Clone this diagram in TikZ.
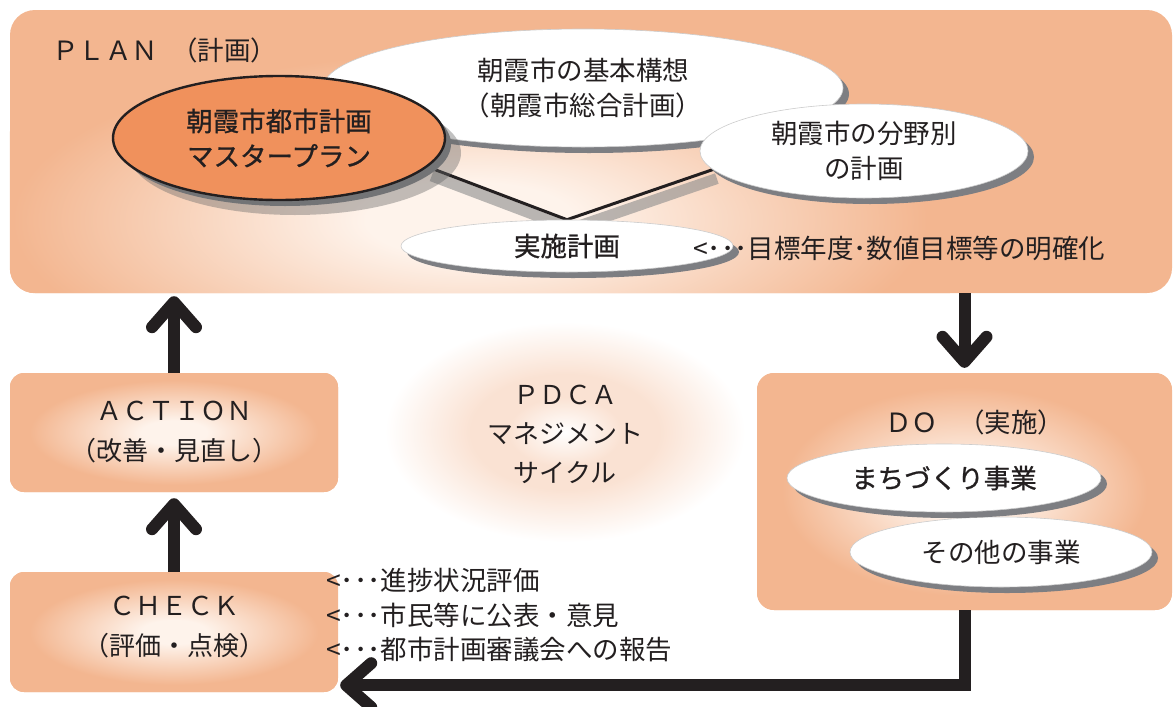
\documentclass[tikz,border=0pt]{standalone}
\usepackage{fontspec}
\setmainfont{Noto Sans CJK JP}
\newfontfamily\jpmedium{Noto Sans CJK JP}[FakeBold=0.9]
\usetikzlibrary{positioning,shapes.geometric,shadows,arrows.meta}

\definecolor{boxorange}{RGB}{243,182,144}
\definecolor{glowwhite}{RGB}{254,243,235}
\definecolor{masterorange}{RGB}{240,145,92}
\definecolor{ink}{RGB}{35,31,32}
\definecolor{ovalshadow}{RGB}{125,126,130}
\colorlet{halo}{boxorange!40!white}

\pgfdeclareradialshading{boxglow}{\pgfpoint{0bp}{0bp}}{color(0bp)=(glowwhite); color(5bp)=(glowwhite); color(22bp)=(boxorange); color(50bp)=(boxorange)}
\pgfdeclareradialshading{pdcahalo}{\pgfpoint{0bp}{0bp}}{color(0bp)=(white); color(8bp)=(halo); color(13bp)=(halo); color(25bp)=(white); color(50bp)=(white)}

\pgfdeclarelayer{back}
\pgfdeclarelayer{links}
\pgfsetlayers{back,links,main}

\newcommand{\jpsize}{\fontsize{26.5}{35}\selectfont}

\tikzset{
  phasebox/.style={rectangle, rounded corners=14pt, inner sep=0pt, fill=boxorange},
  glowing/.style={shade, shading=boxglow},
  boxtext/.style={align=center, inner sep=0pt, text=ink, font=\fontsize{26}{40}\selectfont},
  oval/.style={ellipse, inner sep=0pt, fill=white, draw=black!20, line width=0.6pt, align=center, text=ink, font=\jpsize,
    drop shadow={shadow xshift=6pt, shadow yshift=-6pt, fill=ovalshadow, opacity=1}},
  masteroval/.style={oval, fill=masterorange, draw=ink, line width=2.4pt, font=\jpsize\jpmedium,
    drop shadow={shadow xshift=16pt, shadow yshift=-15pt, fill=black!60, opacity=0.4}},
  note/.style={anchor=west, inner sep=0pt, text=ink, font=\jpsize},
  flow/.style={draw=ink, line width=12pt, -{Straight Barb[round, length=25pt, width=44pt]}},
  vshadow/.style={draw=black!45, opacity=0.6, line width=11pt},
}

\begin{document}
\begin{tikzpicture}[x=1pt,y=-1pt]
\useasboundingbox (0,0) rectangle (1173,707);

\begin{pgfonlayer}{back}
\shade[shading=pdcahalo] (565,432) ellipse (180 and 110);

\node[phasebox, rounded corners=25pt, minimum width=1162pt, minimum height=283pt] (planbox) at (591,151.5) {};
\begin{scope}
  \clip[rounded corners=25pt] (planbox.north west) rectangle (planbox.south east);
  \shade[shading=boxglow] (470,220) ellipse (520 and 190);
\end{scope}

\node[phasebox, glowing, minimum width=328pt, minimum height=119pt] (actionbox) at (174,432.5) {};
\node[phasebox, glowing, minimum width=328pt, minimum height=120pt] (checkbox) at (174,632) {};
\node[phasebox, glowing, rounded corners=17pt, minimum width=415pt, minimum height=237pt] (dobox) at (964.5,491.5) {};
\end{pgfonlayer}

\node[note] (planlabel) at (52,50) {ＰＬＡＮ\hspace{13pt}（計画）};
\node[note] (dolabel) at (885,422) {ＤＯ\hspace{20pt}（実施）};

\node[oval, minimum width=520pt, minimum height=118pt] (kihon) at (583,88) {朝霞市の基本構想\\（朝霞市総合計画）};
\node[masteroval, minimum width=332pt, minimum height=124pt] (master) at (279,138) {朝霞市都市計画\\マスタープラン};
\node[oval, minimum width=328pt, minimum height=94pt] (bunya) at (864,151) {朝霞市の分野別\\の計画};
\node[oval, minimum width=332pt, minimum height=52pt, font=\jpsize\jpmedium] (jisshi) at (567,246) {実施計画};
\node[note] (goalnote) at (693,248) {<･･･目標年度･数値目標等の明確化};

\begin{pgfonlayer}{links}
\draw[vshadow] ([shift={(4,9)}]master.-11) -- ([shift={(4,9)}]jisshi.north) -- ([shift={(4,9)}]bunya.187);
\draw[draw=ink, line width=3pt] (master.-11) -- (jisshi.north) -- (bunya.187);
\end{pgfonlayer}

\node[oval, minimum width=302pt, minimum height=70pt] (sonota) at (1001,552) {その他の事業};
\node[oval, minimum width=314pt, minimum height=68pt, font=\jpsize\jpmedium] (machi) at (944,478) {まちづくり事業};

\node[boxtext] (actiontext) at (actionbox.center) {ＡＣＴＩＯＮ\\（改善・見直し）};
\node[boxtext] (checktext) at ([yshift=5pt]checkbox.center) {ＣＨＥＣＫ\\（評価・点検）};

\node[boxtext, font=\fontsize{26}{39}\selectfont] (pdca) at (565,434) {ＰＤＣＡ\\マネジメント\\サイクル};

\node[note] (check1) at (326,580) {<･･･進捗状況評価};
\node[note] (check2) at (326,615) {<･･･市民等に公表・意見};
\node[note] (check3) at (326,649) {<･･･都市計画審議会への報告};

\draw[flow, shorten >=3pt] (actionbox.north) -- (actionbox.north |- planbox.south);
\draw[flow, shorten >=6pt] (checkbox.north) -- (actionbox.south);
\draw[flow, shorten >=5pt] (dobox.north |- planbox.south) -- (dobox.north);
\draw[flow, shorten >=2pt] (dobox.south) |- ([yshift=7pt]checkbox.south east);
\end{tikzpicture}
\end{document}
